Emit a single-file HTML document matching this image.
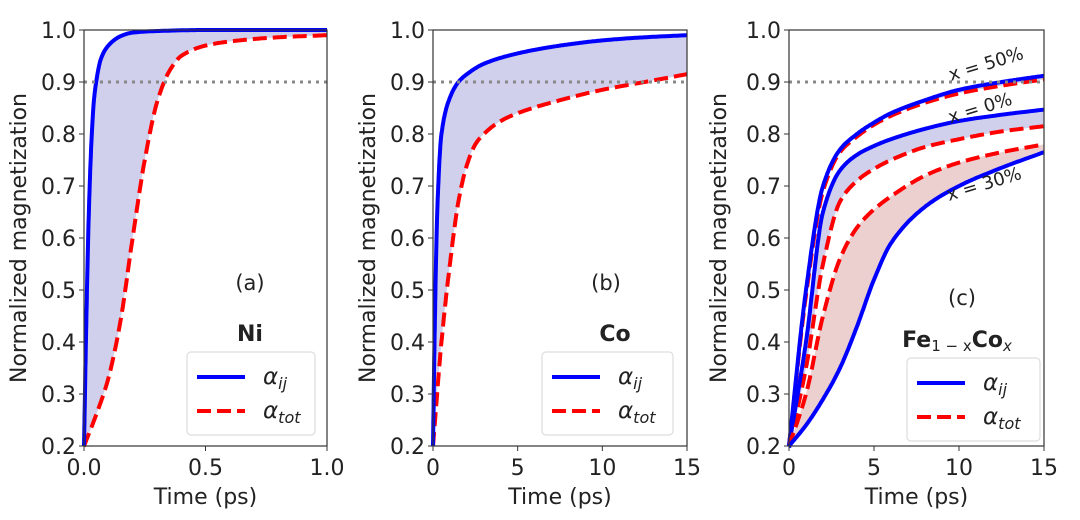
<!DOCTYPE html>
<html><head><meta charset="utf-8"><style>
body{margin:0;background:#fff;width:1080px;height:515px;overflow:hidden}
svg{font-family:"DejaVu Sans","Liberation Sans",sans-serif}
</style></head><body>
<svg id="c" width="1080" height="515"></svg>
<script>
const tA=[0,0.01,0.02,0.03,0.04,0.05,0.07,0.1,0.15,0.2,0.3,0.5,1.0];
const blueA=[0.2,0.45,0.65,0.78,0.86,0.9,0.945,0.97,0.988,0.995,0.998,1.0,1.0];
const tAr=[0,0.05,0.1,0.15,0.2,0.25,0.3,0.35,0.4,0.5,0.6,0.8,1.0];
const redA=[0.2,0.26,0.33,0.44,0.6,0.75,0.86,0.92,0.95,0.97,0.978,0.986,0.99];
const tB=[0,0.1,0.25,0.5,1,1.5,2,3,5,7.5,10,12.5,15];
const blueB=[0.2,0.42,0.65,0.8,0.87,0.9,0.915,0.935,0.955,0.97,0.98,0.986,0.99];
const tBr=[0,0.5,1,1.5,2,2.5,3,4,5,7.5,10,12.5,15];
const redB=[0.2,0.4,0.55,0.67,0.74,0.78,0.8,0.825,0.84,0.865,0.885,0.9,0.915];
const tC=[0,1,2,3,4,5,6,8,10,12.5,15];
const blue50=[0.2,0.5,0.7,0.77,0.8,0.822,0.84,0.865,0.885,0.9,0.912];
const red50=[0.2,0.49,0.69,0.765,0.795,0.818,0.835,0.86,0.878,0.893,0.905];
const blue0=[0.2,0.4,0.65,0.73,0.76,0.777,0.79,0.81,0.825,0.837,0.847];
const red0=[0.2,0.35,0.55,0.67,0.71,0.733,0.75,0.775,0.79,0.805,0.815];
const red30=[0.2,0.3,0.45,0.56,0.62,0.655,0.68,0.72,0.745,0.765,0.78];
const blue30=[0.2,0.24,0.29,0.35,0.43,0.52,0.59,0.66,0.7,0.735,0.765];
const yTicks=[0.2,0.3,0.4,0.5,0.6,0.7,0.8,0.9,1.0];
const xTicksA=[0,0.5,1.0], xTicksB=[0,5,10,15];
const NS="http://www.w3.org/2000/svg", svg=document.getElementById('c');
function el(t,a,p){const e=document.createElementNS(NS,t);for(const k in a)e.setAttribute(k,a[k]);(p||svg).appendChild(e);return e;}
const Y0=446,Y1=30;
function yS(v){return Y0-(v-0.2)/0.8*(Y0-Y1);}
function panel(x0,x1,xmax,id){
  const g=el('g',{});
  const xS=v=>x0+v/xmax*(x1-x0);
  return {g,xS};
}
function mono(xs,ys){
  const n=xs.length,d=[],m=[];
  for(let i=0;i<n-1;i++)d.push((ys[i+1]-ys[i])/(xs[i+1]-xs[i]));
  m[0]=d[0];m[n-1]=d[n-2];
  for(let i=1;i<n-1;i++){
    const w1=2*(xs[i+1]-xs[i])+(xs[i]-xs[i-1]),w2=(xs[i+1]-xs[i])+2*(xs[i]-xs[i-1]);
    m[i]=(d[i-1]*d[i]<=0)?0:(w1+w2)/(w1/d[i-1]+w2/d[i]);}
  return x=>{let i=0;while(i<n-2&&x>xs[i+1])i++;const h=xs[i+1]-xs[i],t=Math.min(1,Math.max(0,(x-xs[i])/h));
    const h00=2*t*t*t-3*t*t+1,h10=t*t*t-2*t*t+t,h01=-2*t*t*t+3*t*t,h11=t*t*t-t*t;
    return h00*ys[i]+h10*h*m[i]+h01*ys[i+1]+h11*h*m[i+1];};
}
function samples(xmax){const a=[];const N=300;for(let i=0;i<=N;i++)a.push(xmax*Math.pow(i/N,2));return a;}
function line(P,xs,ys,color,dash,name){
  const f=mono(xs,ys),xmax=xs[xs.length-1];
  const d=samples(xmax).map((x,i)=>(i?'L':'M')+P.xS(x).toFixed(1)+','+yS(f(x)).toFixed(1)).join('');
  const p=el('path',{d,fill:'none',stroke:color,'stroke-width':4,'stroke-dasharray':dash||'none'},P.g);
  
}
function fill(P,xa,ya,xb,yb,xmax,color,name){
  const fa=mono(xa,ya),fb=mono(xb,yb),s=samples(xmax);let pts=[];
  s.forEach(x=>pts.push(P.xS(x).toFixed(1)+','+yS(fa(x)).toFixed(1)));
  s.slice().reverse().forEach(x=>pts.push(P.xS(x).toFixed(1)+','+yS(fb(x)).toFixed(1)));
  const p=el('polygon',{points:pts.join(' '),fill:color},P.g);
  
}
function axes(P,x0,x1,xt,labels,ylx){
  el('line',{x1:x0,x2:x1,y1:yS(0.9),y2:yS(0.9),stroke:'#888','stroke-width':3,'stroke-dasharray':'3,5'},P.g);
  el('rect',{x:x0,y:Y1,width:x1-x0,height:Y0-Y1,fill:'none',stroke:'#333','stroke-width':1.2},P.g);
  yTicks.forEach(v=>{el('line',{x1:x0-5,x2:x0,y1:yS(v),y2:yS(v),stroke:'#333'},P.g);
    const t=el('text',{x:x0-8,y:yS(v)+8,'text-anchor':'end','font-size':22,fill:'#222'},P.g);t.textContent=v.toFixed(1);
    });
  xt.forEach((v,i)=>{const x=P.xS(v);el('line',{x1:x,x2:x,y1:Y0,y2:Y0+5,stroke:'#333'},P.g);
    const t=el('text',{x:x,y:Y0+29,'text-anchor':'middle','font-size':22,fill:'#222'},P.g);t.textContent=labels[i];
    });
  const xl=el('text',{x:(x0+x1)/2,y:504,'text-anchor':'middle','font-size':22,fill:'#222'},P.g);xl.textContent='Time (ps)';
  
  const yl=el('text',{x:0,y:0,'text-anchor':'middle','font-size':22,fill:'#222',transform:`translate(${ylx},238) rotate(-90)`},P.g);yl.textContent='Normalized magnetization';
  
}
function legend(P,x,y,w){
  const r=el('rect',{x,y,width:w,height:83,rx:4,fill:'#fff',stroke:'#ddd','stroke-width':1.2},P.g);
  
  el('line',{x1:x+10,x2:x+58,y1:y+25,y2:y+25,stroke:'#00f','stroke-width':4},P.g);
  el('line',{x1:x+10,x2:x+58,y1:y+59,y2:y+59,stroke:'#f00','stroke-width':4,'stroke-dasharray':'14,6'},P.g);
  const a=el('text',{x:x+76,y:y+32,'font-size':23,'font-style':'italic',fill:'#222'},P.g);a.innerHTML='α<tspan font-size="16" dy="5">ij</tspan>';
  
  const b=el('text',{x:x+76,y:y+66,'font-size':23,'font-style':'italic',fill:'#222'},P.g);b.innerHTML='α<tspan font-size="16" dy="5">tot</tspan>';
  
}
function txt(P,x,y,s,opts,name){const t=el('text',Object.assign({x,y,'font-size':21,fill:'#222','text-anchor':'middle'},opts||{}),P.g);t.innerHTML=s;return t;}
let A=panel(84,327,1.0,'a');
fill(A,tA,blueA,tAr,redA,1.0,'rgba(120,120,200,0.35)','fill-ni');
line(A,tAr,redA,'#f00','14,6','line-ni-tot');
line(A,tA,blueA,'#00f',null,'line-ni-ij');
axes(A,84,327,xTicksA,['0.0','0.5','1.0'],26);
txt(A,250,290,'(a)',{},'panel-label-a');
txt(A,250,341,'Ni',{'font-weight':'bold','font-size':22},'material-label-ni');
legend(A,187,352,128);
let B=panel(433,687,15,'b');
fill(B,tB,blueB,tBr,redB,15,'rgba(120,120,200,0.35)','fill-co');
line(B,tBr,redB,'#f00','14,6','line-co-tot');
line(B,tB,blueB,'#00f',null,'line-co-ij');
axes(B,433,687,xTicksB,['0','5','10','15'],375);
txt(B,606,290,'(b)',{},'panel-label-b');
txt(B,615,341,'Co',{'font-weight':'bold','font-size':22},'material-label-co');
legend(B,542,352,131);
let C=panel(789,1044,15,'c');
fill(C,tC,blue0,tC,red0,15,'rgba(120,120,200,0.35)','fill-x0');
fill(C,tC,red30,tC,blue30,15,'rgba(200,120,120,0.35)','fill-x30');
fill(C,tC,blue50,tC,red50,15,'rgba(120,120,200,0.35)','fill-x50');
line(C,tC,red50,'#f00','14,6','line-x50-tot');
line(C,tC,blue50,'#00f',null,'line-x50-ij');
line(C,tC,red0,'#f00','14,6','line-x0-tot');
line(C,tC,blue0,'#00f',null,'line-x0-ij');
line(C,tC,red30,'#f00','14,6','line-x30-tot');
line(C,tC,blue30,'#00f',null,'line-x30-ij');
axes(C,789,1044,xTicksB,['0','5','10','15'],726);
txt(C,986,70,'x = 50%',{'font-size':18,transform:'rotate(-17 986 64)'},'annotation-x50');
txt(C,980,114,'x = 0%',{'font-size':18,transform:'rotate(-17 980 108)'},'annotation-x0');
txt(C,984,190,'x = 30%',{'font-size':18,transform:'rotate(-17 984 184)'},'annotation-x30');
txt(C,962,305,'(c)',{},'panel-label-c');
txt(C,957,347,'Fe<tspan font-size="15" dy="4" font-weight="normal">1 − x</tspan><tspan dy="-4">Co</tspan><tspan font-size="15" dy="4" font-style="italic" font-weight="normal">x</tspan>',{'font-weight':'bold','font-size':22},'material-label-feco');
legend(C,907,358,133);
</script>
</body></html>
